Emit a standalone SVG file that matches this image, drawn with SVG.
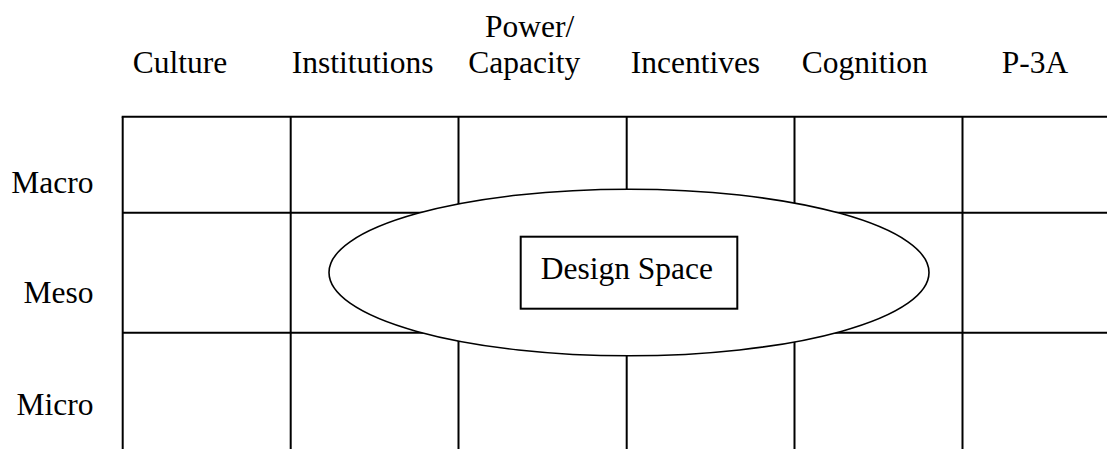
<svg xmlns="http://www.w3.org/2000/svg" width="1107" height="449" viewBox="0 0 1107 449">
  <style>
    .lbl { font-family: "Liberation Serif", "Times New Roman", serif; font-size: 31.5px; fill: #000; }
    .grid line { stroke: #000; stroke-width: 2; }
    .shape { fill: #fff; stroke: #000; }
  </style>
  <rect width="1107" height="449" fill="#fff"/>

  <!-- column headings -->
  <g id="columns">
    <text class="lbl" x="132.7" y="73">Culture</text>
    <text class="lbl" x="291.7" y="73">Institutions</text>
    <text class="lbl" x="485" y="36.7">Power/</text>
    <text class="lbl" x="468.3" y="73">Capacity</text>
    <text class="lbl" x="630.7" y="73">Incentives</text>
    <text class="lbl" x="801.7" y="73">Cognition</text>
    <text class="lbl" x="1001.7" y="73">P-3A</text>
  </g>

  <!-- row headings -->
  <g id="rows">
    <text class="lbl" x="93.5" y="193" text-anchor="end">Macro</text>
    <text class="lbl" x="93.5" y="303.3" text-anchor="end">Meso</text>
    <text class="lbl" x="93.5" y="415" text-anchor="end">Micro</text>
  </g>

  <!-- level x factor grid -->
  <g id="grid" class="grid">
    <line x1="121.7" y1="116.7" x2="1107" y2="116.7"/>
    <line x1="122.7" y1="212.7" x2="1107" y2="212.7"/>
    <line x1="122.7" y1="332.7" x2="1107" y2="332.7"/>
    <line x1="122.7" y1="116.7" x2="122.7" y2="449"/>
    <line x1="290.7" y1="116.7" x2="290.7" y2="449"/>
    <line x1="458.5" y1="116.7" x2="458.5" y2="449"/>
    <line x1="626.7" y1="116.7" x2="626.7" y2="449"/>
    <line x1="794.5" y1="116.7" x2="794.5" y2="449"/>
    <line x1="962.5" y1="116.7" x2="962.5" y2="449"/>
  </g>

  <!-- design space region -->
  <g id="design-space-ellipse">
    <ellipse class="shape" cx="629" cy="272.5" rx="300" ry="83.3" stroke-width="1.6"/>
  </g>

  <g id="design-space">
    <rect class="shape" x="520.7" y="236.7" width="216.6" height="72" stroke-width="2"/>
    <text class="lbl" x="540.7" y="278.5">Design Space</text>
  </g>
</svg>
